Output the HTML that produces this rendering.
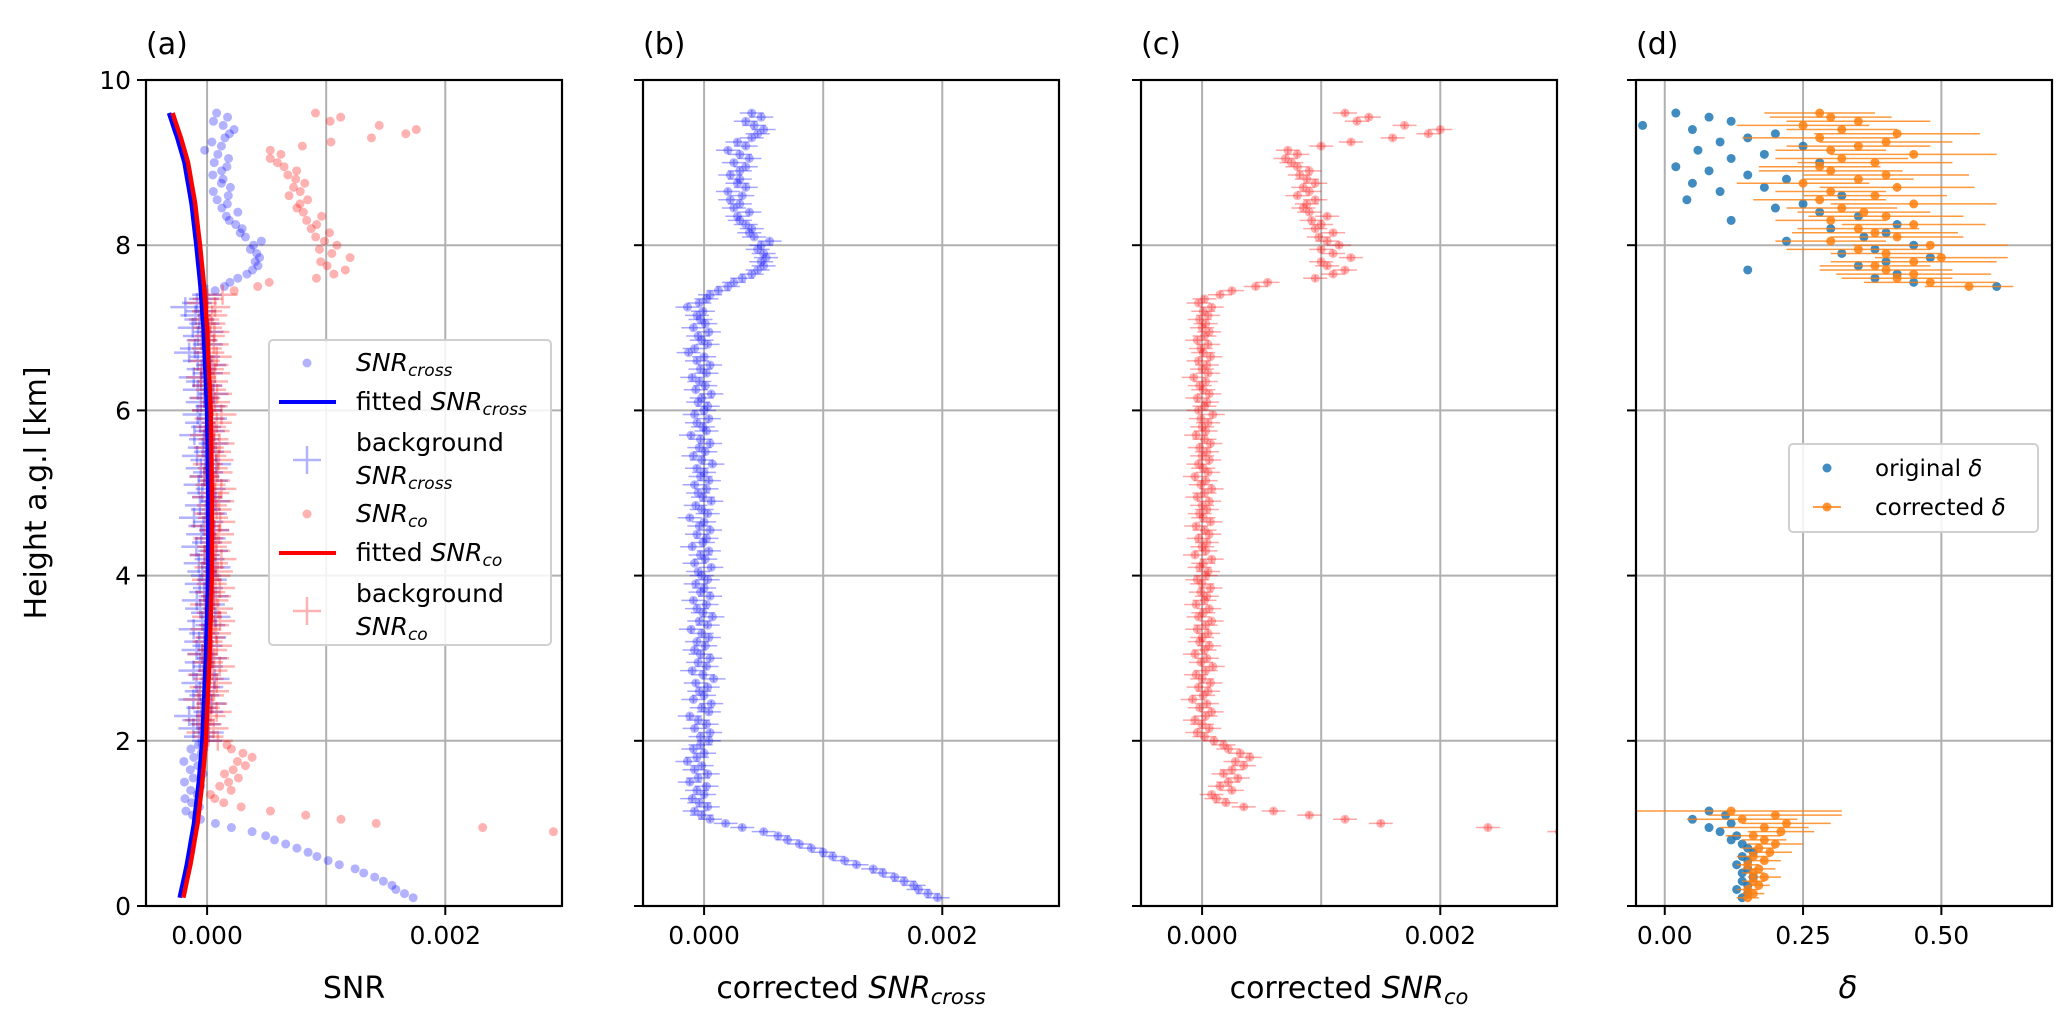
<!DOCTYPE html>
<html><head><meta charset="utf-8"><title>SNR profiles</title>
<style>
html,body{margin:0;padding:0;background:#fff;}
svg{display:block;font-family:"DejaVu Sans","Liberation Sans",sans-serif;}
</style></head>
<body>
<svg id="fig" xmlns="http://www.w3.org/2000/svg" width="2067" height="1032" viewBox="0 0 2067 1032"></svg>
<script>
// ---------- data ----------
const HEIGHT_START = 0.1;
const HEIGHT_STEP = 0.05;
// corrected SNR_cross values (units of 1e-5)
const crossLow = [196,188,180,176,168,160,150,142,128,118,108,100,90,80,70,62,50,32,18];
const crossBl = [5,-2,-8,3,-4,-10,0,-6,2,-12,-5,3,-8,-2,-14,-6,0,-9,-3,4];
const crossMid = [-3,5,-8,2,-5,-12,4,-2,6,-9,0,-4,3,-7,8,-1,-10,2,-5,5,-3,-8,1,-6,4,-2,-11,3,-4,7,-1,-6,2,-9,5,-3,0,-7,3,-2,-5,6,-8,1,-3,4,-10,-1,2,-6,5,-4,0,-12,3,-2,-7,6,-1,-5,2,-8,4,-3,0,-6,7,-2,-9,1,-4,5,-3,-11,2,-1,-6,4,-8,0,3,-5,-2,6,-7,1,-4,-10,2,-3,5,-6,0,-13,-8,3,-2,-5,4,-9,1,-3,-6,-1,-14,-4,2];
const crossTop = [5,12,20,25,32,40,45,50,48,52,50,45,48,55,42,38,40,35,30,28,38,25,30,22,32,20,35,28,30,22,30,35,25,38,30,20,35,28,40,45,50,42,35,48,40];
// corrected SNR_co values (units of 1e-5), null = no data
const coLow = [null,null,null,null,null,null,null,null,null,null,null,null,null,null,null,null,300,240,150];
const coBl = [120,90,60,35,20,12,8,25,15,22,30,18,25,35,28,40,32,22,18,10];
const coMid = [2,-4,6,0,-6,3,8,-2,4,-8,1,5,-3,7,0,-5,3,9,-1,4,-6,2,6,-2,0,5,-4,3,8,-3,1,6,-5,2,4,-1,7,0,-4,3,5,-2,1,8,-6,3,0,4,-3,6,2,-5,7,1,-2,4,0,6,-4,2,8,-1,3,-6,5,1,-3,6,0,4,-2,7,2,-5,3,0,5,-1,9,-3,2,4,-4,6,1,-2,3,-7,5,0,4,-3,7,1,-1,5,-4,2,6,0,3,-2,5,1,8,-3,2];
const coTop = [15,25,45,55,95,110,120,105,100,125,110,100,115,105,98,110,95,100,92,105,90,85,88,95,80,90,85,95,88,82,90,80,75,70,80,72,100,125,160,190,200,170,130,140,120];
// fitted background curves (panel a), units of 1e-5
const fitHeights = [0.1,0.5,1,1.5,2,3,4,5,6,7,7.5,8,8.5,9,9.3,9.6];
const fitCross = [-23,-17,-11,-7,-4,-1,1,1,0,-3,-5.5,-9,-13,-19,-25,-32];
const fitCo = [-20,-14,-8,-4,-1,2,4,4,3,0,-2.5,-6,-10,-16,-22,-29];
// panel d
const dTopStart = 7.5, dBotStart = 0.1;
const deltaOrigTop = [0.60,0.45,0.38,0.42,0.15,0.35,0.40,0.48,0.32,0.38,0.45,0.22,0.36,0.40,0.30,0.42,0.12,0.35,0.28,0.20,0.25,0.04,0.32,0.10,0.18,0.05,0.22,0.15,0.08,0.02,0.28,0.12,0.18,0.06,0.25,0.10,0.15,0.20,0.05,-0.04,0.12,0.08,0.02];
const deltaCorrTop = [0.55,0.48,0.42,0.45,0.40,0.38,0.45,0.50,0.40,0.35,0.48,0.30,0.42,0.38,0.35,0.45,0.30,0.40,0.36,0.32,0.45,0.28,0.38,0.30,0.42,0.25,0.35,0.40,0.30,0.28,0.38,0.32,0.45,0.30,0.35,0.40,0.28,0.42,0.32,0.25,0.35,0.30,0.28];
const deltaErrTop = [0.08,0.12,0.1,0.14,0.12,0.1,0.15,0.12,0.1,0.13,0.14,0.1,0.12,0.15,0.11,0.13,0.1,0.14,0.12,0.1,0.15,0.12,0.13,0.1,0.14,0.12,0.1,0.15,0.13,0.11,0.14,0.12,0.15,0.1,0.13,0.12,0.14,0.15,0.1,0.12,0.13,0.11,0.1];
const deltaOrigBot = [0.14,0.15,0.13,0.15,0.14,0.16,0.14,0.15,0.13,0.15,0.14,0.16,0.15,0.14,0.12,0.13,0.10,0.08,0.12,0.05,0.11,0.08];
const deltaCorrBot = [0.15,0.16,0.15,0.17,0.16,0.18,0.16,0.17,0.15,0.18,0.16,0.19,0.17,0.20,0.18,0.16,0.21,0.18,0.22,0.14,0.20,0.12];
const deltaErrBot = [0.02,0.02,0.02,0.02,0.02,0.03,0.02,0.03,0.02,0.03,0.03,0.04,0.03,0.05,0.04,0.05,0.06,0.08,0.08,0.10,0.12,0.20];
// ticks
const yTicks = [0,2,4,6,8,10];
const yTickLabels = ["0","2","4","6","8","10"];
const snrTicks = [0,0.001,0.002,0.003];
const snrTickLabels = ["0.000","","0.002",""];
const dTicks = [0,0.25,0.5];
const dTickLabels = ["0.00","0.25","0.50"];

// ---------- layout ----------
const NS = "http://www.w3.org/2000/svg";
const svg = document.getElementById('fig');
const TOP = 80, BOT = 906, PW = 416;
const PANEL_X = [146, 643, 1141, 1636];
const SNR_MIN = -0.000513, SNR_MAX = 0.00298;
const D_MIN = -0.052, D_MAX = 0.70;
function yS(h){ return BOT - (h/10)*(BOT-TOP); }
function xSnr(p, v){ return PANEL_X[p] + (v - SNR_MIN)/(SNR_MAX-SNR_MIN)*PW; }
function xD(v){ return PANEL_X[3] + (v - D_MIN)/(D_MAX-D_MIN)*PW; }
function mk(tag, attrs, parent){
  const e = document.createElementNS(NS, tag);
  for (const k in attrs) e.setAttribute(k, attrs[k]);
  (parent||svg).appendChild(e);
  return e;
}
function fitAt(h, arr){
  for (let i=0;i<fitHeights.length-1;i++){
    if (h<=fitHeights[i+1]){
      const t=(h-fitHeights[i])/(fitHeights[i+1]-fitHeights[i]);
      return arr[i]+t*(arr[i+1]-arr[i]);
    }
  }
  return arr[arr.length-1];
}
const cross = crossLow.concat(crossBl, crossMid, crossTop);
const co = coLow.concat(coBl, coMid, coTop);
const hOf = i => HEIGHT_START + HEIGHT_STEP*i;

const defs = mk('defs', {});
for (let p=0;p<4;p++){
  const cp = mk('clipPath', {id:'clip'+p}, defs);
  mk('rect', {x:PANEL_X[p], y:TOP, width:PW, height:BOT-TOP}, cp);
}

const panelNames = ['panel-a','panel-b','panel-c','panel-d'];
const titles = ['(a)','(b)','(c)','(d)'];
const groups = [];
for (let p=0;p<4;p++){
  const g = mk('g', {});
  
  
  groups.push(g);
  const x0 = PANEL_X[p];
  const xt = p<3 ? snrTicks : dTicks;
  const xl = p<3 ? snrTickLabels : dTickLabels;
  for (let i=0;i<xt.length;i++){
    const x = p<3 ? xSnr(p, xt[i]) : xD(xt[i]);
    if (x > x0+PW) continue;
    const gl = mk('line', {x1:x, x2:x, y1:TOP, y2:BOT, stroke:'#b0b0b0', 'stroke-width':2}, g);
    
    
    if (xl[i] === '') continue;
    const tk = mk('line', {x1:x, x2:x, y1:BOT, y2:BOT+9, stroke:'#000', 'stroke-width':2}, g);
    
    
    const tl = mk('text', {x:x, y:BOT+38, 'font-size':25, 'text-anchor':'middle'}, g);
    tl.textContent = xl[i];
    
    
  }
  for (let i=0;i<yTicks.length;i++){
    const y = yS(yTicks[i]);
    const gl = mk('line', {x1:x0, x2:x0+PW, y1:y, y2:y, stroke:'#b0b0b0', 'stroke-width':2}, g);
    
    
    const tk = mk('line', {x1:x0-9, x2:x0, y1:y, y2:y, stroke:'#000', 'stroke-width':2}, g);
    
    
    if (p===0){
      const tl = mk('text', {x:x0-15, y:y+9, 'font-size':25, 'text-anchor':'end'}, g);
      tl.textContent = yTickLabels[i];
      
      
    }
  }
  const t = mk('text', {x:x0, y:54, 'font-size':30}, g);
  t.textContent = titles[p];
  
  
}

// ---- panel a ----
const ga = mk('g', {'clip-path':'url(#clip0)'}, groups[0]);


function drawA(vals, fit, color, name){
  for (let i=0;i<vals.length;i++){
    if (vals[i]===null) continue;
    const h = hOf(i);
    const v = (vals[i] + fitAt(h, fit))*1e-5;
    const x = xSnr(0, v), y = yS(h);
    if (h >= 2.0 && h <= 7.4){
      const c = mk('path', {d:`M${x-15},${y}H${x+15}M${x},${y-10}V${y+10}`, stroke:color, 'stroke-width':2.5, 'stroke-opacity':0.3, fill:'none'}, ga);
      
      
    } else {
      const d = mk('circle', {cx:x, cy:y, r:4.5, fill:color, 'fill-opacity':0.3}, ga);
      
      
    }
  }
}
drawA(cross, fitCross, '#0000ff', 'snr-cross');
drawA(co, fitCo, '#ff0000', 'snr-co');
function fitPath(arr){
  let d='';
  for (let k=0;k<=95;k++){
    const h = 0.1 + k*0.1;
    d += (k?'L':'M') + xSnr(0, fitAt(h,arr)*1e-5).toFixed(1) + ',' + yS(h).toFixed(1);
  }
  return d;
}
const fc = mk('path', {d:fitPath(fitCross), stroke:'#0000ff', 'stroke-width':4.5, fill:'none', 'stroke-linejoin':'round'}, ga);


const fo = mk('path', {d:fitPath(fitCo), stroke:'#ff0000', 'stroke-width':4.5, fill:'none', 'stroke-linejoin':'round'}, ga);



// ---- panels b, c ----
function drawCorr(p, vals, color, name){
  const g = mk('g', {'clip-path':`url(#clip${p})`}, groups[p]);
  
  
  for (let i=0;i<vals.length;i++){
    if (vals[i]===null) continue;
    const h = hOf(i);
    const x = xSnr(p, vals[i]*1e-5), y = yS(h);
    const e = mk('path', {d:`M${x-12},${y}H${x+12}M${x},${y-3}V${y+3}`, stroke:color, 'stroke-width':1.5, 'stroke-opacity':0.35, fill:'none'}, g);
    
    
    const c = mk('circle', {cx:x, cy:y, r:4.5, fill:color, 'fill-opacity':0.3}, g);
    
    
  }
}
drawCorr(1, cross, '#0000ff', 'corrected-snr-cross');
drawCorr(2, co, '#ff0000', 'corrected-snr-co');

// ---- panel d ----
const gd = mk('g', {'clip-path':'url(#clip3)'}, groups[3]);


function drawOrig(vals, h0){
  for (let i=0;i<vals.length;i++){
    const c = mk('circle', {cx:xD(vals[i]), cy:yS(h0+0.05*i), r:4.5, fill:'#1f77b4', 'fill-opacity':0.85}, gd);
    
    
  }
}
function drawCorrD(vals, errs, h0){
  for (let i=0;i<vals.length;i++){
    const y = yS(h0+0.05*i);
    const e = mk('line', {x1:xD(vals[i]-errs[i]), x2:xD(vals[i]+errs[i]), y1:y, y2:y, stroke:'#ff7f0e', 'stroke-width':1.5, 'stroke-opacity':0.8}, gd);
    
    
    const c = mk('circle', {cx:xD(vals[i]), cy:y, r:4.5, fill:'#ff7f0e', 'fill-opacity':0.85}, gd);
    
    
  }
}
drawOrig(deltaOrigTop, dTopStart);
drawOrig(deltaOrigBot, dBotStart);
drawCorrD(deltaCorrTop, deltaErrTop, dTopStart);
drawCorrD(deltaCorrBot, deltaErrBot, dBotStart);

for (let p=0;p<4;p++){
  const f = mk('rect', {x:PANEL_X[p], y:TOP, width:PW, height:BOT-TOP, fill:'none', stroke:'#000', 'stroke-width':2.2}, groups[p]);
  
  
}
</script>

<svg xmlns="http://www.w3.org/2000/svg" width="2067" height="1032" style="position:absolute;left:0;top:0;font-family:'DejaVu Sans','Liberation Sans',sans-serif;">
  <text x="0" y="0" font-size="30" text-anchor="middle" transform="translate(46,493) rotate(-90)">Height a.g.l [km]</text>
  <text x="354" y="998" font-size="30" text-anchor="middle">SNR</text>
  <text x="851" y="998" font-size="30" text-anchor="middle">corrected <tspan font-style="italic">SNR</tspan><tspan font-style="italic" font-size="21" dy="6">cross</tspan></text>
  <text x="1349" y="998" font-size="30" text-anchor="middle">corrected <tspan font-style="italic">SNR</tspan><tspan font-style="italic" font-size="21" dy="6">co</tspan></text>
  <text x="1848" y="998" font-size="31" font-style="italic" text-anchor="middle">δ</text>

  <g>
    <rect x="269" y="340" width="282" height="305" rx="4" fill="#fff" fill-opacity="0.85" stroke="#d0d0d0" stroke-width="2"/>
    <g>
      <circle cx="307" cy="363" r="4.5" fill="#0000ff" fill-opacity="0.3"/>
      <text x="356" y="371" font-size="25"><tspan font-style="italic">SNR</tspan><tspan font-style="italic" font-size="17" dy="5">cross</tspan></text>
    </g>
    <g>
      <line x1="279" y1="402" x2="336" y2="402" stroke="#0000ff" stroke-width="4"/>
      <text x="356" y="410" font-size="25">fitted <tspan font-style="italic">SNR</tspan><tspan font-style="italic" font-size="17" dy="5">cross</tspan></text>
    </g>
    <g>
      <path d="M293,460H321M307,446V474" stroke="#0000ff" stroke-opacity="0.3" stroke-width="2.5"/>
      <text x="356" y="451" font-size="25">background</text>
      <text x="356" y="484" font-size="25"><tspan font-style="italic">SNR</tspan><tspan font-style="italic" font-size="17" dy="5">cross</tspan></text>
    </g>
    <g>
      <circle cx="307" cy="514" r="4.5" fill="#ff0000" fill-opacity="0.3"/>
      <text x="356" y="522" font-size="25"><tspan font-style="italic">SNR</tspan><tspan font-style="italic" font-size="17" dy="5">co</tspan></text>
    </g>
    <g>
      <line x1="279" y1="553" x2="336" y2="553" stroke="#ff0000" stroke-width="4"/>
      <text x="356" y="561" font-size="25">fitted <tspan font-style="italic">SNR</tspan><tspan font-style="italic" font-size="17" dy="5">co</tspan></text>
    </g>
    <g>
      <path d="M293,611H321M307,597V625" stroke="#ff0000" stroke-opacity="0.3" stroke-width="2.5"/>
      <text x="356" y="602" font-size="25">background</text>
      <text x="356" y="635" font-size="25"><tspan font-style="italic">SNR</tspan><tspan font-style="italic" font-size="17" dy="5">co</tspan></text>
    </g>
  </g>

  <g>
    <rect x="1789" y="444" width="249" height="88" rx="4" fill="#fff" fill-opacity="0.85" stroke="#d0d0d0" stroke-width="2"/>
    <g>
      <circle cx="1827" cy="468" r="4.5" fill="#1f77b4" fill-opacity="0.85"/>
      <text x="1875" y="476" font-size="23">original <tspan font-style="italic">δ</tspan></text>
    </g>
    <g>
      <line x1="1813" y1="507" x2="1841" y2="507" stroke="#ff7f0e" stroke-width="1.5"/>
      <circle cx="1827" cy="507" r="4.5" fill="#ff7f0e" fill-opacity="0.85"/>
      <text x="1875" y="515" font-size="23">corrected <tspan font-style="italic">δ</tspan></text>
    </g>
  </g>
</svg>
</body></html>
